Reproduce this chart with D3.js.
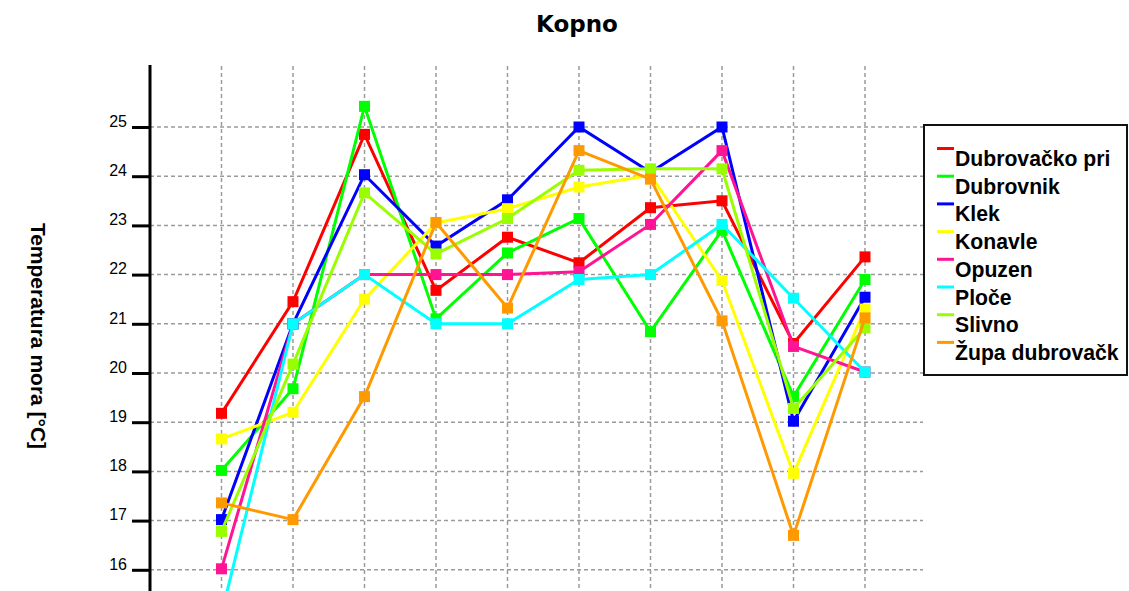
<!DOCTYPE html>
<html>
<head>
<meta charset="utf-8">
<script src="https://cdn.jsdelivr.net/npm/d3@7"></script>
<style>
  html, body { margin: 0; padding: 0; background: #fff; }
  svg { display: block; }
</style>
</head>
<body>
<svg id="chart" width="1129" height="591"></svg>
<script>
const title = "Kopno";
const yAxisTitle = "Temperatura mora [°C]";
const categories = ["1", "2", "3", "4", "5", "6", "7", "8", "9", "10"];
const yTicks = [16, 17, 18, 19, 20, 21, 22, 23, 24, 25];

const seriesNames = ["Dubrovačko pri", "Dubrovnik", "Klek", "Konavle", "Opuzen", "Ploče", "Slivno", "Župa dubrovačk"];
const seriesColors = ["#ff0000", "#00ff00", "#0000ff", "#ffff00", "#ff1493", "#00ffff", "#99ff00", "#ff9900"];

const dubrovackoPri = [19.18, 21.45, 24.85, 21.68, 22.76, 22.24, 23.36, 23.5, 20.6, 22.36];
const dubrovnik     = [18.02, 19.68, 25.42, 21.1, 22.44, 23.14, 20.84, 22.9, 19.52, 21.9];
const klek          = [17.02, 21.0, 24.03, 22.58, 23.52, 25.0, 24.08, 25.0, 19.02, 21.54];
const konavle       = [18.66, 19.2, 21.5, 23.05, 23.34, 23.78, 24.02, 21.88, 17.96, 21.3];
const opuzen        = [16.02, 21.0, 22.0, 22.0, 22.0, 22.06, 23.02, 24.52, 20.54, 20.02];
const ploce         = [15.1, 21.0, 22.0, 21.0, 21.0, 21.9, 22.0, 23.02, 21.52, 20.02];
const slivno        = [16.78, 20.18, 23.66, 22.42, 23.14, 24.12, 24.15, 24.15, 19.28, 20.92];
const zupa          = [17.36, 17.02, 19.52, 23.06, 21.32, 24.52, 23.94, 21.06, 16.7, 21.12];

const seriesValues = [dubrovackoPri, dubrovnik, klek, konavle, opuzen, ploce, slivno, zupa];

const svg = d3.select("#chart");
const W = 1129, H = 591;

const x = d3.scalePoint().domain(categories).range([150, 936.5]).padding(1);
const y = d3.scaleLinear().domain([16, 25]).range([569.8, 127]);

const plotLeft = 150, plotTop = 65, gridRight = 923;

// Grid
const grid = svg.append("g");
grid.selectAll("line.h").data(yTicks).join("line")
  .attr("x1", plotLeft).attr("x2", gridRight)
  .attr("y1", d => y(d)).attr("y2", d => y(d))
  .attr("stroke", "#9a9a9a").attr("stroke-width", 1.5).attr("stroke-dasharray", "4,3");
grid.selectAll("line.v").data(categories).join("line")
  .attr("x1", d => x(d)).attr("x2", d => x(d))
  .attr("y1", plotTop + 1).attr("y2", H)
  .attr("stroke", "#9a9a9a").attr("stroke-width", 1.5).attr("stroke-dasharray", "4,3");

// Y axis
const yAxis = d3.axisLeft(y).tickValues(yTicks).tickSize(18).tickPadding(5).tickFormat(d3.format("d"));
const ag = svg.append("g").attr("transform", `translate(${plotLeft},0)`).call(yAxis);
ag.select(".domain").remove();
ag.selectAll(".tick line").attr("stroke", "#000").attr("stroke-width", 3);
ag.selectAll(".tick text")
  .attr("font-family", "'Liberation Sans', Arial, sans-serif")
  .attr("font-size", 16).attr("fill", "#000").attr("dy", "-0.05em");
svg.append("line").attr("x1", plotLeft).attr("x2", plotLeft)
  .attr("y1", plotTop).attr("y2", H)
  .attr("stroke", "#000").attr("stroke-width", 3);

// Series
const line = d3.line().x((d, i) => x(categories[i])).y(d => y(d));
seriesValues.forEach((vals, si) => {
  const g = svg.append("g");
  g.append("path").datum(vals)
    .attr("d", line).attr("fill", "none")
    .attr("stroke", seriesColors[si]).attr("stroke-width", 3)
    .attr("stroke-linejoin", "miter");
  const s = 11;
  g.selectAll("rect").data(vals).join("rect")
    .attr("x", (d, i) => x(categories[i]) - s / 2)
    .attr("y", d => y(d) - s / 2)
    .attr("width", s).attr("height", s)
    .attr("fill", seriesColors[si]);
});

// Title
svg.append("text").attr("x", 577).attr("y", 32)
  .attr("text-anchor", "middle")
  .attr("font-family", "'DejaVu Sans', Verdana, sans-serif")
  .attr("font-weight", "bold").attr("font-size", 23)
  .attr("fill", "#000").text(title);

// Y axis title
svg.append("text")
  .attr("transform", "translate(31,336) rotate(90)")
  .attr("text-anchor", "middle")
  .attr("font-family", "'Liberation Sans', Arial, sans-serif")
  .attr("font-weight", "bold").attr("font-size", 21)
  .attr("fill", "#000").text(yAxisTitle);

// Legend
const lg = svg.append("g");
lg.append("rect").attr("x", 924).attr("y", 125).attr("width", 203).attr("height", 250)
  .attr("fill", "#fff").attr("stroke", "#111").attr("stroke-width", 2);
const entries = lg.selectAll("g.e").data(seriesNames).join("g")
  .attr("transform", (d, i) => `translate(0,${i * 27.7})`);
entries.append("line")
  .attr("x1", 937).attr("x2", 954).attr("y1", 148.5).attr("y2", 148.5)
  .attr("stroke", (d, i) => seriesColors[i]).attr("stroke-width", 3);
entries.append("text")
  .attr("x", 955).attr("y", 166)
  .attr("font-family", "'Liberation Sans', Arial, sans-serif")
  .attr("font-weight", "bold").attr("font-size", 21.2)
  .attr("fill", "#000").text(d => d);
</script>
</body>
</html>
